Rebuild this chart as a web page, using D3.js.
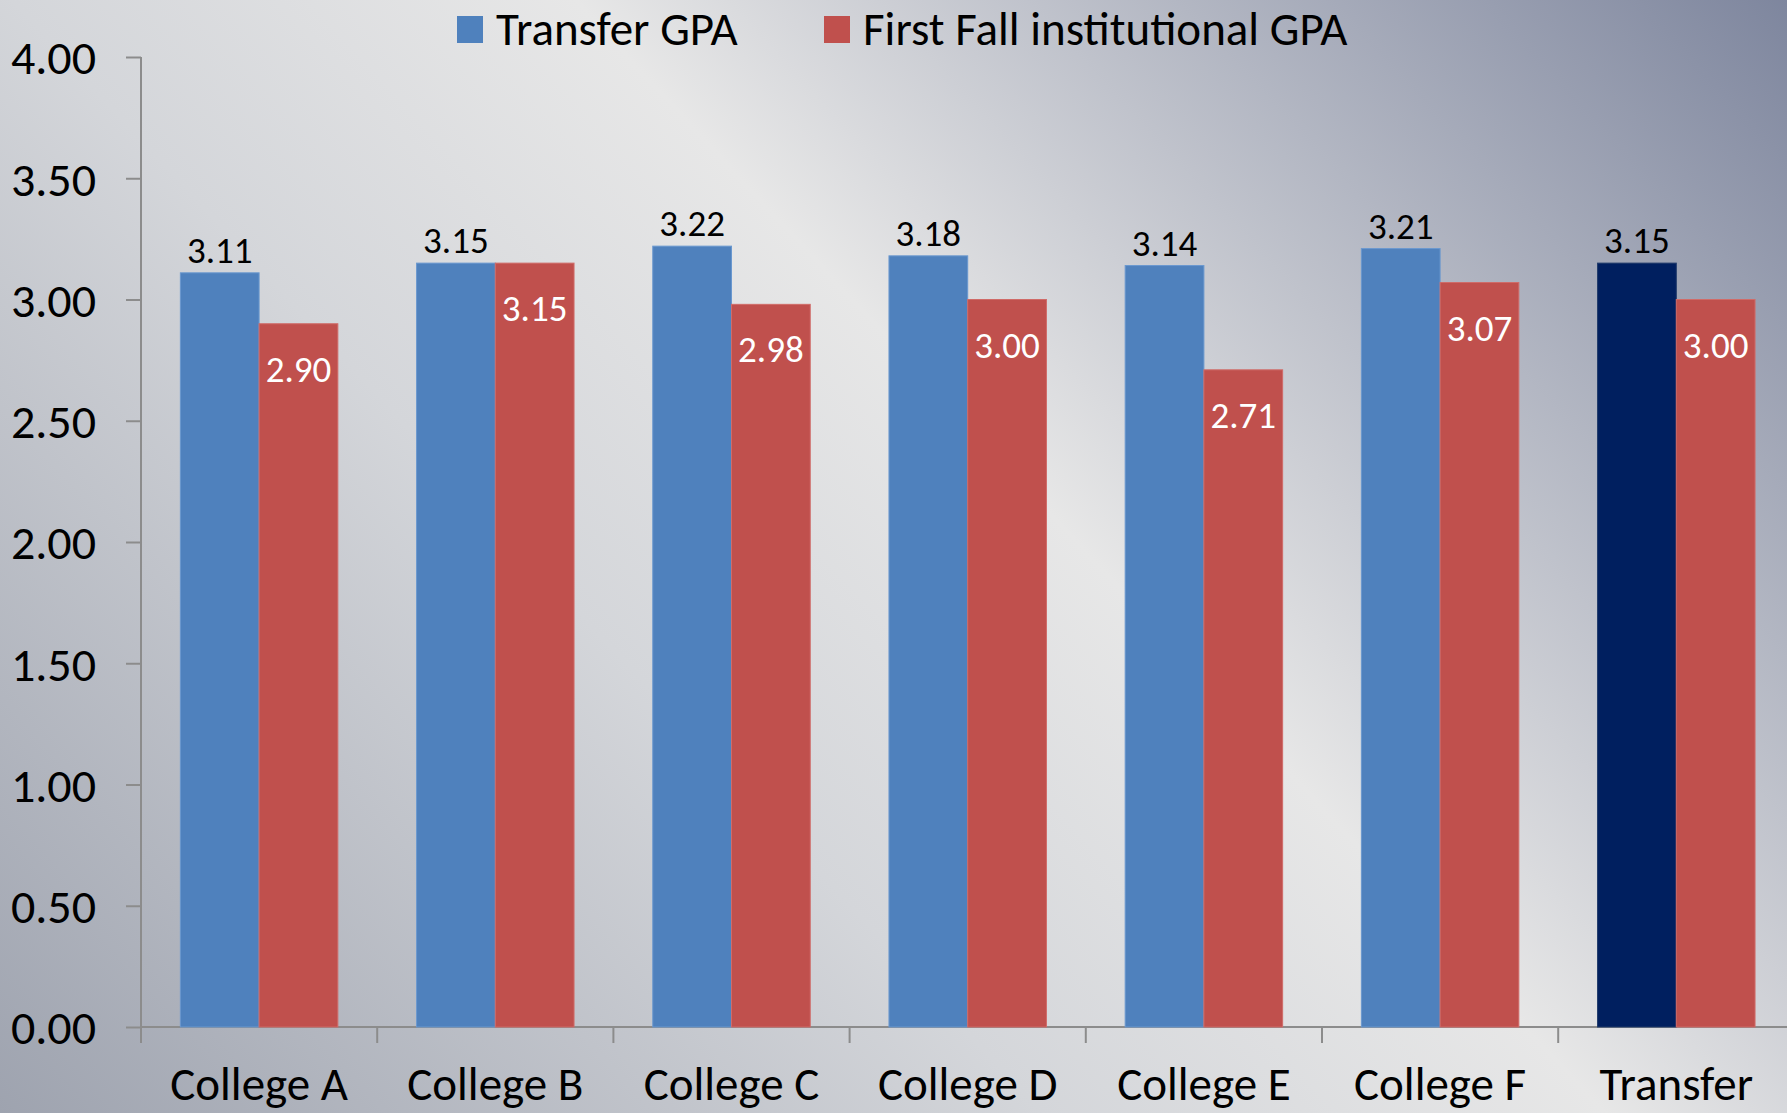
<!DOCTYPE html>
<html>
<head>
<meta charset="utf-8">
<script src="https://cdn.jsdelivr.net/npm/d3@7"></script>
<style>
  html, body { margin: 0; padding: 0; overflow: hidden; }
  svg, svg text { font-family: Carlito, Calibri, Lato, sans-serif; }
  svg { display: block; }
</style>
</head>
<body>
<div id="chart"></div>
<script>
// chart data
var categories = ["College A", "College B", "College C", "College D", "College E", "College F", "Transfer"];
var transferGPA = [3.11, 3.15, 3.22, 3.18, 3.14, 3.21, 3.15];
var firstFallGPA = [2.90, 3.15, 2.98, 3.00, 2.71, 3.07, 3.00];
var seriesNames = ["Transfer GPA", "First Fall institutional GPA"];
var yTicks = [0, 0.5, 1, 1.5, 2, 2.5, 3, 3.5, 4];

var width = 1787, height = 1113;
var blue = "#4f81bd", red = "#c0504d", navy = "#001f5f";

/**
 * Appends the svg with the diagonal grey background.
 */
function appendSVG(id) {
    var svg = d3.select("#" + id)
        .append("svg")
        .attr("width", width)
        .attr("height", height);

    var grad = svg.append("defs").append("linearGradient")
        .attr("id", "bg")
        .attr("gradientUnits", "userSpaceOnUse")
        .attr("x1", 1085 - 0.734 * 1175).attr("y1", 556 + 0.679 * 1175)
        .attr("x2", 1085 + 0.734 * 893).attr("y2", 556 - 0.679 * 893);
    [[0, "#9ea3af"], [0.37, "#d4d6da"], [0.57, "#e7e7e7"], [1, "#7e869e"]].forEach(function (s) {
        grad.append("stop").attr("offset", s[0]).attr("stop-color", s[1]);
    });

    svg.append("rect")
        .attr("width", width)
        .attr("height", height)
        .attr("fill", "url(#bg)");

    return svg;
}

function drawChart() {
    var svg = appendSVG("chart");
    var left = 141, top = 57, bottom = 1027;
    var right = left + 236.2 * categories.length;

    var x0 = d3.scaleBand()
        .domain(categories)
        .range([left, right])
        .paddingInner(1 / 3)
        .paddingOuter(1 / 6);

    var x1 = d3.scaleBand()
        .domain([0, 1])
        .range([0, x0.bandwidth()]);

    var y = d3.scaleLinear()
        .domain([0, 4])
        .range([bottom, top]);

    var step = x0.step();
    var axisColor = "#8c8c8c";

    // y axis
    var yAxis = d3.axisLeft(y)
        .tickValues(yTicks)
        .tickSize(15)
        .tickPadding(30)
        .tickFormat(d3.format(".2f"));
    var gy = svg.append("g")
        .attr("transform", "translate(" + left + ",0)")
        .call(yAxis)
        .attr("font-family", null)
        .attr("font-size", null);
    gy.select(".domain").remove();
    gy.selectAll(".tick line").attr("stroke", axisColor).attr("stroke-width", 2);
    gy.selectAll(".tick text")
        .attr("fill", "#000")
        .style("font-size", "48px")
        .attr("dy", "0.35em");
    svg.append("line")
        .attr("x1", left).attr("x2", left)
        .attr("y1", top).attr("y2", bottom + 16)
        .attr("stroke", axisColor).attr("stroke-width", 2);

    // x axis line and category boundary ticks
    svg.append("line")
        .attr("x1", left).attr("x2", right)
        .attr("y1", bottom).attr("y2", bottom)
        .attr("stroke", axisColor).attr("stroke-width", 2);
    svg.selectAll(".xtick")
        .data(d3.range(1, categories.length + 1))
        .enter().append("line")
        .attr("x1", function (i) { return left + i * step; })
        .attr("x2", function (i) { return left + i * step; })
        .attr("y1", bottom).attr("y2", bottom + 16)
        .attr("stroke", axisColor).attr("stroke-width", 2);

    svg.selectAll(".xlabel")
        .data(categories)
        .enter().append("text")
        .attr("x", function (d) { return x0(d) + x0.bandwidth() / 2; })
        .attr("y", 1100)
        .attr("text-anchor", "middle")
        .style("font-size", "47px")
        .text(function (d) { return d; });

    var groups = svg.selectAll(".group")
        .data(categories)
        .enter().append("g")
        .attr("transform", function (d) { return "translate(" + x0(d) + ",0)"; });

    // Transfer GPA bars, last group drawn in navy
    groups.append("rect")
        .attr("x", x1(0))
        .attr("width", x1.bandwidth())
        .attr("y", function (d, i) { return y(transferGPA[i]); })
        .attr("height", function (d, i) { return bottom - y(transferGPA[i]); })
        .attr("fill", function (d, i) { return i === categories.length - 1 ? navy : blue; })
        .attr("stroke", function (d, i) { return i === categories.length - 1 ? "#1f3a6a" : "#6a98cf"; })
        .attr("stroke-width", 1);

    groups.append("rect")
        .attr("x", x1(1))
        .attr("width", x1.bandwidth())
        .attr("y", function (d, i) { return y(firstFallGPA[i]); })
        .attr("height", function (d, i) { return bottom - y(firstFallGPA[i]); })
        .attr("fill", red)
        .attr("stroke", "#d06b68")
        .attr("stroke-width", 1);

    // value labels
    groups.append("text")
        .attr("x", x1(0) + x1.bandwidth() / 2)
        .attr("y", function (d, i) { return y(transferGPA[i]) - 10; })
        .attr("text-anchor", "middle")
        .style("font-size", "37px")
        .text(function (d, i) { return transferGPA[i].toFixed(2); });

    groups.append("text")
        .attr("x", x1(1) + x1.bandwidth() / 2)
        .attr("y", function (d, i) { return y(firstFallGPA[i]) + 58; })
        .attr("text-anchor", "middle")
        .attr("fill", "#fff")
        .style("font-size", "37px")
        .text(function (d, i) { return firstFallGPA[i].toFixed(2); });

    // legend
    var legendX = [457, 824];
    var legendColors = [blue, red];
    var legend = svg.selectAll(".legend")
        .data(seriesNames)
        .enter().append("g")
        .attr("transform", function (d, i) { return "translate(" + legendX[i] + ",0)"; });
    legend.append("rect")
        .attr("y", 16)
        .attr("width", 26)
        .attr("height", 27)
        .attr("fill", function (d, i) { return legendColors[i]; });
    legend.append("text")
        .attr("x", 39)
        .attr("y", 45)
        .style("font-size", "47px")
        .text(function (d) { return d; });
}

drawChart();
</script>
</body>
</html>
